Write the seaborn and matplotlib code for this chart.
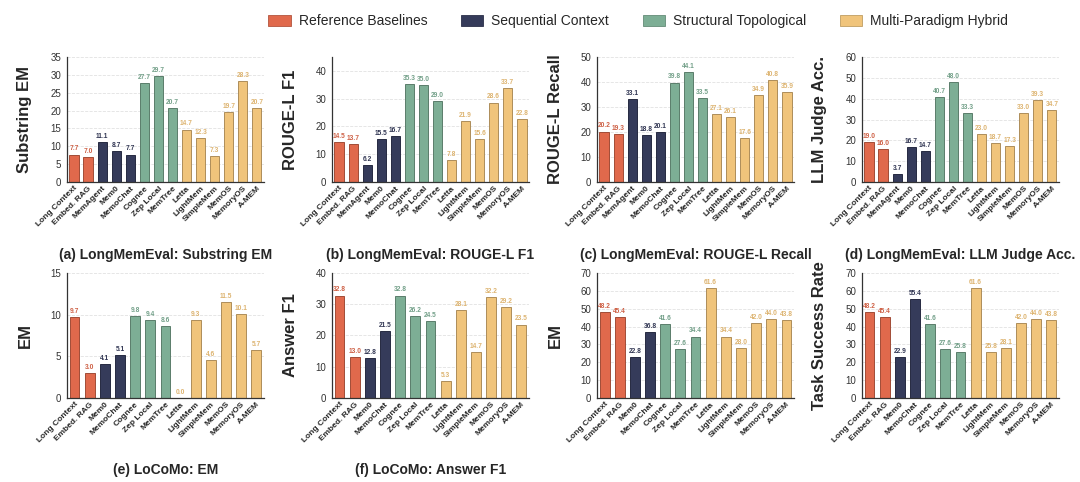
import pandas as pd
import matplotlib
matplotlib.use('Agg')
import matplotlib.pyplot as plt
import matplotlib.colors as mcolors
from matplotlib.patches import Patch
import seaborn as sns

# --- data ---
GROUPS = ['Reference Baselines', 'Sequential Context',
          'Structural Topological', 'Multi-Paradigm Hybrid']
GROUP_COLORS = ['#E0694C', '#353B5A', '#7DAE95', '#F0C47B']

LME_METHODS = ['Long Context', 'Embed. RAG', 'MemAgent', 'Mem0', 'MemoChat',
               'Cognee', 'Zep Local', 'MemTree', 'Letta', 'LightMem',
               'SimpleMem', 'MemOS', 'MemoryOS', 'A-MEM']
LME_GROUPS = ['Reference Baselines'] * 2 + ['Sequential Context'] * 3 + \
             ['Structural Topological'] * 3 + ['Multi-Paradigm Hybrid'] * 6

LOCOMO_METHODS = ['Long Context', 'Embed. RAG', 'Mem0', 'MemoChat',
                  'Cognee', 'Zep Local', 'MemTree', 'Letta', 'LightMem',
                  'SimpleMem', 'MemOS', 'MemoryOS', 'A-MEM']
LOCOMO_GROUPS = ['Reference Baselines'] * 2 + ['Sequential Context'] * 2 + \
                ['Structural Topological'] * 3 + ['Multi-Paradigm Hybrid'] * 6

LME_SUBSTRING_EM = [7.7, 7.0, 11.1, 8.7, 7.7, 27.7, 29.7, 20.7, 14.7, 12.3, 7.3, 19.7, 28.3, 20.7]
LME_ROUGE_F1 = [14.5, 13.7, 6.2, 15.5, 16.7, 35.3, 35.0, 29.0, 7.8, 21.9, 15.6, 28.6, 33.7, 22.8]
LME_ROUGE_RECALL = [20.2, 19.3, 33.1, 18.8, 20.1, 39.8, 44.1, 33.5, 27.1, 26.1, 17.6, 34.9, 40.8, 35.9]
LME_JUDGE_ACC = [19.0, 16.0, 3.7, 16.7, 14.7, 40.7, 48.0, 33.3, 23.0, 18.7, 17.3, 33.0, 39.3, 34.7]

LOCOMO_EM = [9.7, 3.0, 4.1, 5.1, 9.8, 9.4, 8.6, 0.0, 9.3, 4.6, 11.5, 10.1, 5.7]
LOCOMO_ANSWER_F1 = [32.8, 13.0, 12.8, 21.5, 32.8, 26.2, 24.5, 5.3, 28.1, 14.7, 32.2, 29.2, 23.5]
PANEL_G_EM = [48.2, 45.4, 22.8, 36.8, 41.6, 27.6, 34.4, 61.6, 34.4, 28.0, 42.0, 44.0, 43.8]
PANEL_H_SUCCESS = [48.2, 45.4, 22.9, 55.4, 41.6, 27.6, 25.8, 61.6, 25.8, 28.1, 42.0, 44.0, 43.8]

# (methods, groups, values, ylabel, ymax, ystep, caption)
PANELS = [
    (LME_METHODS, LME_GROUPS, LME_SUBSTRING_EM, 'Substring EM', 35, 5, '(a) LongMemEval: Substring EM'),
    (LME_METHODS, LME_GROUPS, LME_ROUGE_F1, 'ROUGE-L F1', 45, 10, '(b) LongMemEval: ROUGE-L F1'),
    (LME_METHODS, LME_GROUPS, LME_ROUGE_RECALL, 'ROUGE-L Recall', 50, 10, '(c) LongMemEval: ROUGE-L Recall'),
    (LME_METHODS, LME_GROUPS, LME_JUDGE_ACC, 'LLM Judge Acc.', 60, 10, '(d) LongMemEval: LLM Judge Acc.'),
    (LOCOMO_METHODS, LOCOMO_GROUPS, LOCOMO_EM, 'EM', 15, 5, '(e) LoCoMo: EM'),
    (LOCOMO_METHODS, LOCOMO_GROUPS, LOCOMO_ANSWER_F1, 'Answer F1', 40, 10, '(f) LoCoMo: Answer F1'),
    (LOCOMO_METHODS, LOCOMO_GROUPS, PANEL_G_EM, 'EM', 70, 10, None),
    (LOCOMO_METHODS, LOCOMO_GROUPS, PANEL_H_SUCCESS, 'Task Success Rate', 70, 10, None),
]


def darker(color, f):
    r, g, b = mcolors.to_rgb(color)
    return (r * f, g * f, b * f)


sns.set_style('white')
plt.rcParams['font.family'] = ['Liberation Sans', 'DejaVu Sans']

fig = plt.figure(figsize=(10.8, 4.82), dpi=100)
palette = dict(zip(GROUPS, GROUP_COLORS))

lefts = [0.062, 0.3074, 0.5528, 0.7981]
bottoms = [0.6224, 0.1743]
w, h = 0.1824, 0.2593
caption_y = [0.471, 0.025]

for i, (methods, groups, values, ylabel, ymax, ystep, caption) in enumerate(PANELS):
    row, col = divmod(i, 4)
    ax = fig.add_axes([lefts[col], bottoms[row], w, h])
    df = pd.DataFrame({'method': methods, 'group': groups, 'value': values})
    sns.barplot(data=df, x='method', y='value', hue='group', hue_order=GROUPS,
                palette=palette, dodge=False, width=0.65, saturation=1,
                errorbar=None, legend=False, ax=ax)

    for cont in ax.containers:
        if len(cont.patches) == 0:
            continue
        fc = cont.patches[0].get_facecolor()
        for p in cont.patches:
            p.set_edgecolor(darker(fc, 0.72))
            p.set_linewidth(0.7)
        ax.bar_label(cont, fmt='%.1f', fontsize=4.8, fontweight='bold',
                     color=darker(fc, 0.92), padding=1.5)

    ax.set_ylim(0, ymax)
    ax.set_yticks(range(0, ymax + 1, ystep))
    ax.set_xlim(-0.5, len(methods) - 0.5)
    ax.set_xticks(range(len(methods)))
    ax.set_xticklabels(methods, rotation=45, ha='right', rotation_mode='anchor',
                       fontsize=6, fontweight='bold')
    ax.tick_params(axis='x', length=0, pad=2)
    ax.tick_params(axis='y', length=0, pad=4, labelsize=7, labelcolor='#333333')
    ax.set_xlabel('')
    ax.set_ylabel(ylabel, fontsize=12, fontweight='bold')
    ax.yaxis.set_label_coords(-0.175, 0.5)
    ax.yaxis.grid(True, linestyle='--', color='#E2E2E2', linewidth=0.6)
    ax.set_axisbelow(True)
    sns.despine(ax=ax)
    for s in ['left', 'bottom']:
        ax.spines[s].set_color('#333333')
        ax.spines[s].set_linewidth(0.9)

    if caption:
        fig.text(lefts[col] + w / 2, caption_y[row], caption, ha='center',
                 va='center', fontsize=10, fontweight='bold')

handles = [Patch(facecolor=c, edgecolor=darker(c, 0.8), linewidth=0.6) for c in GROUP_COLORS]
fig.legend(handles, GROUPS, loc='center', bbox_to_anchor=(0.591, 0.956), ncol=4,
           frameon=False, fontsize=10, handlelength=1.6, handleheight=0.9,
           handletextpad=0.6, columnspacing=2.4)

fig.savefig('out.png', dpi=100)
